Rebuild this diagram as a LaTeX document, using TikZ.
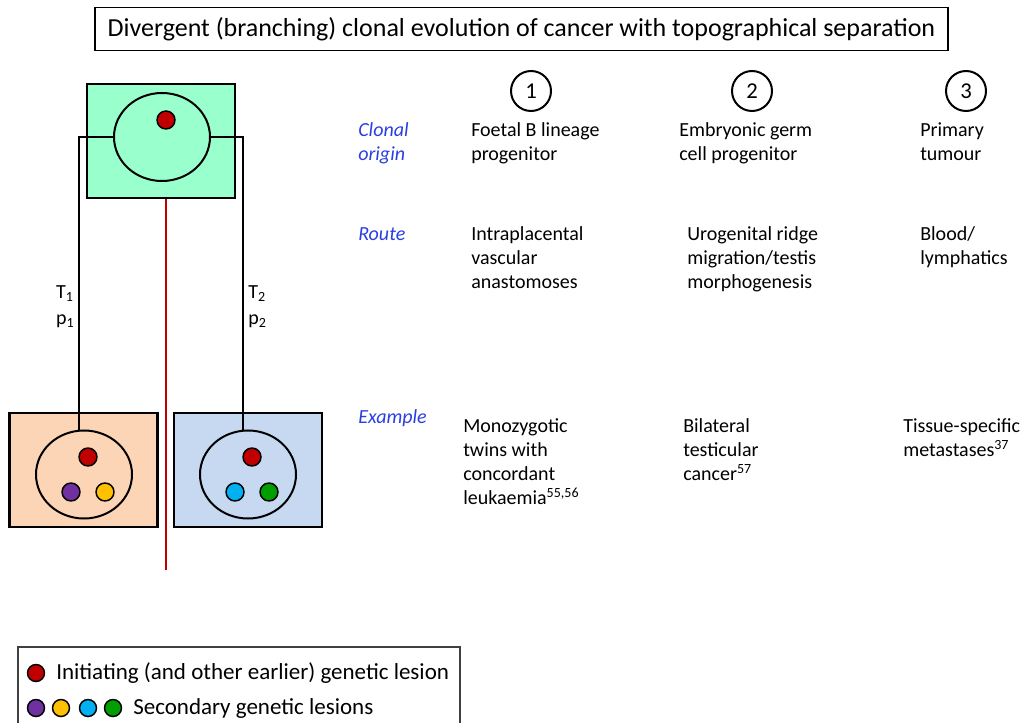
\documentclass[tikz,border=0pt]{standalone}
\usepackage{fontspec}
\setmainfont{Carlito}
\usepackage{tikz}
\usetikzlibrary{
  positioning,
  shapes.geometric,
}
\definecolor{siteOrigin}{HTML}{99FFCC}
\definecolor{siteLeft}{HTML}{FBD5B5}
\definecolor{siteRight}{HTML}{C6D9F1}
\definecolor{lesionRed}{HTML}{C00000}
\definecolor{lesionPurple}{HTML}{7030A0}
\definecolor{lesionYellow}{HTML}{FFC000}
\definecolor{lesionCyan}{HTML}{00B0F0}
\definecolor{lesionGreen}{HTML}{009E00}
\definecolor{rowBlue}{HTML}{2B3FE0}

\begin{document}
\begin{tikzpicture}[x=0.75pt, y=-0.75pt,
  site/.style={draw=black, line width=1.8pt, minimum width=111pt,
               minimum height=85.5pt, inner sep=0pt},
  clone/.style={ellipse, draw=black, line width=1.5pt, minimum width=72pt,
                minimum height=66pt, inner sep=0pt},
  lesion/.style={circle, draw=black, line width=1.1pt, minimum size=13.5pt,
                 inner sep=0pt},
  branch/.style={line width=1.5pt},
  rowlabel/.style={anchor=base west, align=left, inner sep=0pt, text=rowBlue,
                   font=\fontsize{15}{18}\selectfont\itshape},
  cell/.style={anchor=base west, align=left, inner sep=0pt,
               font=\fontsize{15}{18}\selectfont},
  colnum/.style={circle, draw=black, line width=1.5pt, minimum size=30pt,
                 inner sep=0pt, font=\fontsize{17}{17}\selectfont},
  keytext/.style={anchor=west, inner sep=0pt, font=\fontsize{17.25}{20}\selectfont},
]
\useasboundingbox (0,0) rectangle (1024,723);

% heading
\node[draw=black, line width=0.8pt, minimum width=639.75pt, minimum height=32.25pt,
      font=\fontsize{19.5}{19.5}\selectfont] (title) at (521.5,29)
  {Divergent (branching) clonal evolution of cancer with topographical separation};

% sites and clones
\node[site, fill=siteOrigin] (originbox) at (161,141) {};
\node[site, fill=siteLeft]   (leftbox)   at (83.5,470) {};
\node[site, fill=siteRight]  (rightbox)  at (248,470) {};

\node[clone] (originclone) at (162,137) {};
\node[clone] (leftclone)   at (84,474.5) {};
\node[clone] (rightclone)  at (248,474.5) {};

\node[lesion, fill=lesionRed] (origindot) at (166,120) {};
\node[lesion, fill=lesionRed]    (leftdot)   at (88,457) {};
\node[lesion, fill=lesionPurple] (leftsecA)  at (71,492) {};
\node[lesion, fill=lesionYellow] (leftsecB)  at (105,492) {};
\node[lesion, fill=lesionRed]    (rightdot)  at (252,457) {};
\node[lesion, fill=lesionCyan]   (rightsecA) at (235,492) {};
\node[lesion, fill=lesionGreen]  (rightsecB) at (269,492) {};

% branches to the two sites
\draw[branch] (originclone.west) -| ([xshift=-3.4pt]leftclone.north)
  node[pos=0.79, left=3pt, align=left, inner sep=0pt,
       font=\fontsize{15}{19.5}\selectfont] (leftlabel)
  {T\textsubscript{1}\\p\textsubscript{1}};
\draw[branch] (originclone.east) -| ([xshift=-3.4pt]rightclone.north)
  node[pos=0.79, right=3pt, align=left, inner sep=0pt,
       font=\fontsize{15}{19.5}\selectfont] (rightlabel)
  {T\textsubscript{2}\\p\textsubscript{2}};

% separation line
\coordinate (sepend) at (166,570);
\draw[lesionRed, line width=1.5pt] (originbox.south -| origindot) -- (sepend);

% column numbers
\node[colnum] (numA) at (531,91) {1};
\node[colnum] (numB) at (752,91) {2};
\node[colnum] (numC) at (966,91) {3};

% row labels (base = baseline of the last line, 24 units per line)
\node[rowlabel] (origin)  at (358,161) {Clonal\\origin};
\node[rowlabel] (route)   at (358,241) {Route};
\node[rowlabel] (example) at (358,423) {Example};

% clonal origin
\node[cell] (originA) at (471,161) {Foetal B lineage\\progenitor};
\node[cell] (originB) at (679,161) {Embryonic germ\\cell progenitor};
\node[cell] (originC) at (920,161) {Primary\\tumour};

% route
\node[cell] (routeA) at (471,289) {Intraplacental\\vascular\\anastomoses};
\node[cell] (routeB) at (687,289) {Urogenital ridge\\migration/testis\\morphogenesis};
\node[cell] (routeC) at (920,265) {Blood/\\lymphatics};

% examples
\node[cell] (exampleA) at (463,504)
  {Monozygotic\\twins with\\concordant\\leukaemia\textsuperscript{55,56}};
\node[cell] (exampleB) at (683,480)
  {Bilateral\\testicular\\cancer\textsuperscript{57}};
\node[cell] (exampleC) at (903,456)
  {Tissue-specific\\metastases\textsuperscript{37}};

% key
\draw[line width=0.8pt, draw=black!75] (18,723) |- (460,647) -- (460,723);
\node[lesion, fill=lesionRed, minimum size=12.75pt] (keyinit) at (36,673) {};
\node[keytext] (keyinittext) at (56,673) {Initiating (and other earlier) genetic lesion};
\foreach \col/\x [count=\i] in {lesionPurple/36, lesionYellow/61,
                                 lesionCyan/88, lesionGreen/113}
{
  \node[lesion, fill=\col, minimum size=12.75pt] (keysec\i) at (\x,708) {};
}
\node[keytext] (keysectext) at (133,708) {Secondary genetic lesions};

\end{tikzpicture}
\end{document}
